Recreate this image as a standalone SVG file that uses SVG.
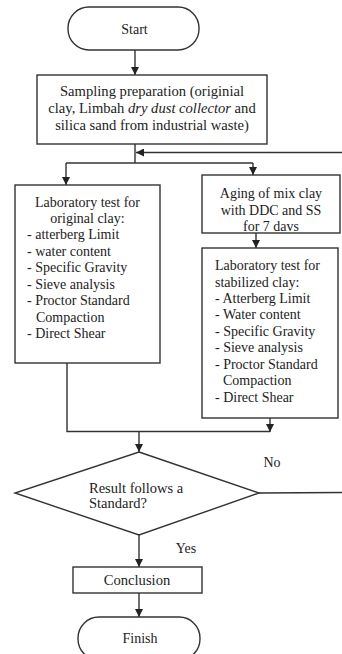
<svg xmlns="http://www.w3.org/2000/svg" width="342" height="654" viewBox="0 0 342 654" font-family="'Liberation Serif', 'Times New Roman', serif">
<style>
.s{fill:#fff;stroke:#333;stroke-width:1.4}
.l{fill:none;stroke:#333;stroke-width:1.4}
text{font-family:"Liberation Serif","Times New Roman",serif;font-size:14px;fill:#222}
.c{text-anchor:middle}
</style>
<defs>
<marker id="ah" viewBox="0 0 10 10" refX="10" refY="5" markerWidth="8" markerHeight="8" markerUnits="userSpaceOnUse" orient="auto">
<path d="M0,0 L10,5 L0,10 Z" fill="#222"/>
</marker>
</defs>
<rect width="342" height="654" fill="#fff"/>
<g id="connectors">
<line class="l" x1="135" y1="50" x2="135" y2="75" marker-end="url(#ah)"/>
<line class="l" x1="135" y1="144" x2="135" y2="163"/>
<line class="l" x1="342" y1="152.5" x2="136" y2="152.5" marker-end="url(#ah)"/>
<line class="l" x1="66" y1="163" x2="253" y2="163"/>
<line class="l" x1="66" y1="163" x2="66" y2="185" marker-end="url(#ah)"/>
<line class="l" x1="253" y1="163" x2="253" y2="175" marker-end="url(#ah)"/>
<line class="l" x1="256" y1="233" x2="256" y2="248" marker-end="url(#ah)"/>
<polyline class="l" points="67,363 67,431.5 270,431.5"/>
<line class="l" x1="270" y1="418" x2="270" y2="432" marker-end="url(#ah)"/>
<line class="l" x1="139" y1="431.5" x2="139" y2="452" marker-end="url(#ah)"/>
<line class="l" x1="259" y1="493" x2="342" y2="492.5"/>
<line class="l" x1="139" y1="535" x2="139" y2="567" marker-end="url(#ah)"/>
<line class="l" x1="139" y1="593" x2="139" y2="617" marker-end="url(#ah)"/>
<text x="272" y="467" class="c">No</text>
<text x="186" y="553" class="c">Yes</text>
</g>
<g id="start">
<rect class="s" x="68" y="7" width="131" height="43" rx="21" ry="21"/>
<text x="134.5" y="34" class="c">Start</text>
</g>
<g id="sampling">
<rect class="s" x="37" y="75" width="230" height="69"/>
<text x="152" y="96" class="c" style="font-size:14.6px">Sampling preparation (originial</text>
<text x="152" y="113" class="c" style="font-size:14.6px">clay, Limbah <tspan font-style="italic">dry dust collector</tspan> and</text>
<text x="152" y="130" class="c" style="font-size:14.6px">silica sand from industrial waste)</text>
</g>
<g id="lab-original">
<rect class="s" x="15" y="185" width="145" height="178"/>
<text x="87.5" y="206.5" class="c">Laboratory test for</text>
<text x="87.5" y="223" class="c">original clay:</text>
<text x="27" y="239">- atterberg Limit</text>
<text x="27" y="255.5">- water content</text>
<text x="27" y="272">- Specific Gravity</text>
<text x="27" y="288.5">- Sieve analysis</text>
<text x="27" y="305">- Proctor Standard</text>
<text x="36" y="321.5">Compaction</text>
<text x="27" y="338">- Direct Shear</text>
</g>
<g id="aging">
<rect class="s" x="202" y="175" width="138" height="58"/>
<text x="271" y="198" class="c">Aging of mix clay</text>
<text x="271" y="214.5" class="c">with DDC and SS</text>
<text x="271" y="231" class="c">for 7 davs</text>
</g>
<g id="lab-stabilized">
<rect class="s" x="202" y="248" width="136" height="170"/>
<text x="215" y="270">Laboratory test for</text>
<text x="215" y="286.5">stabilized clay:</text>
<text x="215" y="302.5">- Atterberg Limit</text>
<text x="215" y="319">- Water content</text>
<text x="215" y="335.5">- Specific Gravity</text>
<text x="215" y="352">- Sieve analysis</text>
<text x="215" y="368.5">- Proctor Standard</text>
<text x="223" y="385">Compaction</text>
<text x="215" y="401.5">- Direct Shear</text>
</g>
<g id="decision">
<polygon class="s" points="139,452 259,493 139,535 15,493"/>
<text x="89" y="493" style="font-size:14.5px">Result follows a</text>
<text x="89" y="508" style="font-size:14.5px">Standard?</text>
</g>
<g id="conclusion">
<rect class="s" x="73" y="567" width="129" height="26"/>
<text x="137" y="585" class="c" style="font-size:14.6px">Conclusion</text>
</g>
<g id="finish">
<rect class="s" x="78" y="617" width="122" height="43" rx="21" ry="21"/>
<text x="140" y="643" class="c">Finish</text>
</g>
</svg>
